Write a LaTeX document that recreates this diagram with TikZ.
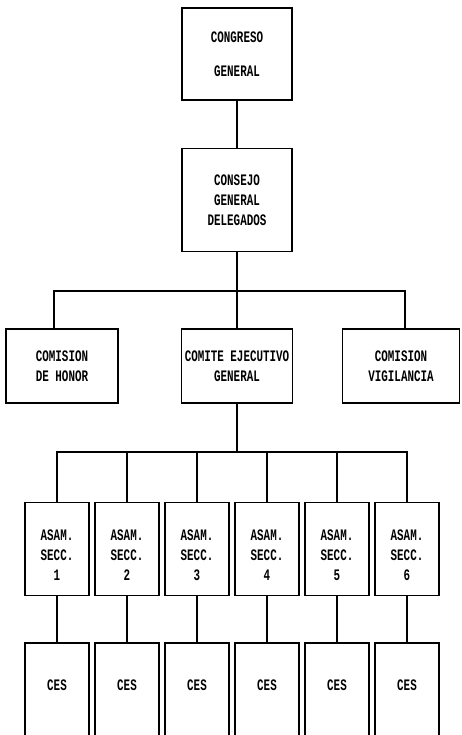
\documentclass[tikz,border=0pt]{standalone}
\usepackage{fontspec}
\newfontfamily\orgfont[FakeStretch=0.68]{Liberation Mono}

\tikzset{
  box/.style={draw, line width=1.5pt, align=center, inner sep=0pt,
    font=\orgfont\bfseries\fontsize{16}{20}\selectfont},
  boxtext/.style={inner sep=0pt, align=center, font=\orgfont\bfseries\fontsize{16}{20}\selectfont},
  link/.style={line width=1.2pt},
}

\begin{document}
\begin{tikzpicture}[x=1pt,y=-1pt]
% page has the size of the scan, boxes at the bottom run off it
\useasboundingbox (0,0) rectangle (461,735);
\clip (0,0) rectangle (461,735);

% top levels
\node[box, minimum width=110pt, minimum height=92pt] (congreso) at (237,54) {CONGRESO\\[14pt]GENERAL};
\node[box, minimum width=110pt, minimum height=103pt] (consejo) at (237,200) {CONSEJO\\GENERAL\\DELEGADOS};

% commissions and executive committee
\node[box, minimum width=112pt, minimum height=74pt] (honor) at (62,366) {COMISION\\DE HONOR};
\node[box, minimum width=111pt, minimum height=74pt] (comite) at (237,366) {COMITE EJECUTIVO\\GENERAL};
\node[box, minimum width=117pt, minimum height=74pt] (vigilancia) at (401,366) {COMISION\\VIGILANCIA};

% section assemblies and their CES
\foreach \i in {1,...,6} {
  \node[box, minimum width=64pt, minimum height=93pt] (asam\i) at ({57+70*(\i-1)},549) {};
  \node[boxtext] (asamtext\i) at ({57+70*(\i-1)},555) {ASAM.\\SECC.\\\i};
  \node[box, anchor=north, minimum width=64pt, minimum height=150pt] (ces\i) at ({57+70*(\i-1)},642) {};
  \node[boxtext] (cestext\i) at ({57+70*(\i-1)},685) {CES};
}

% connectors
\coordinate (bus1) at (237,291);
\coordinate (bus2) at (237,452);
\draw[link] (congreso) -- (consejo);
\draw[link] (consejo) -- (comite);
\draw[link] ([xshift=-8pt]honor.north) |- (bus1) -| ([xshift=4pt]vigilancia.north);
\draw[link] (comite) -- (bus2);
\draw[link] (asam1.north) |- (bus2) -| (asam6.north);
\foreach \i in {2,...,5}
  \draw[link] (asam\i.north) -- (asam\i.north |- bus2);
\foreach \i in {1,...,6}
  \draw[link] (asam\i) -- (ces\i);

\end{tikzpicture}
\end{document}
